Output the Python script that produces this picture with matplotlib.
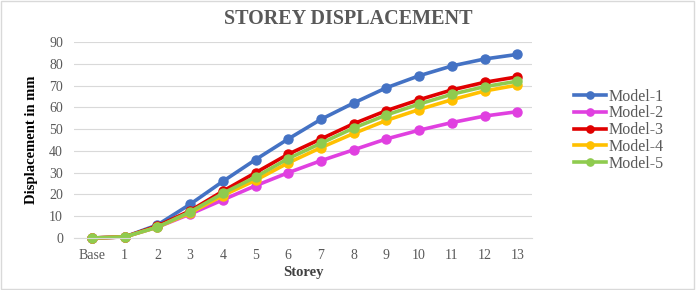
import matplotlib
matplotlib.use('Agg')
import matplotlib.pyplot as plt

storeys = ['Base', '1', '2', '3', '4', '5', '6', '7', '8', '9', '10', '11', '12', '13']
model_1 = [0, 0.5, 6, 15.5, 26, 36, 45.5, 54.5, 62, 69, 74.5, 79, 82.2, 84.3]
model_2 = [0, 0.5, 5, 11, 17.5, 24, 30, 35.5, 40.5, 45.5, 49.5, 53, 56, 58]
model_3 = [0, 0.5, 5.5, 12.5, 21.5, 30, 38.5, 45.5, 52.5, 58.5, 63.5, 68, 71.5, 74]
model_4 = [0, 0.5, 5, 11.5, 19.5, 26.5, 34.5, 41.5, 48, 54, 59, 63.5, 67.5, 70.2]
model_5 = [0, 0.5, 5, 12, 20.5, 28, 36.5, 43.5, 50.5, 56.5, 61.5, 66, 69.5, 72]
names = ['Model-1', 'Model-2', 'Model-3', 'Model-4', 'Model-5']
colors = ['#4472C4', '#E040E0', '#E00000', '#FFC000', '#8FCB4F']

plt.rcParams['font.family'] = ['Liberation Serif', 'DejaVu Serif']

fig = plt.figure(figsize=(6.96, 2.90), dpi=100)
ax = fig.add_axes([74 / 696, 52 / 290, (532 - 74) / 696, (238 - 42) / 290])

x = list(range(len(storeys)))
for vals, name, c in zip([model_1, model_2, model_3, model_4, model_5], names, colors):
    ax.plot(x, vals, color=c, lw=2.6, marker='o', ms=6.5, label=name, clip_on=False)

ax.set_xlim(-0.55, 13.45)
ax.set_ylim(0, 90)
ax.set_yticks(range(0, 91, 10))
ax.set_xticks(x)
ax.set_xticklabels(storeys)
ax.grid(axis='y', color='#D9D9D9', lw=0.8)
ax.set_axisbelow(True)
for s in ['top', 'right', 'left']:
    ax.spines[s].set_visible(False)
ax.spines['bottom'].set_color('#D9D9D9')
ax.tick_params(length=0, labelsize=10, colors='#595959', pad=8)

ax.set_xlabel('Storey', fontsize=10.5, fontweight='bold', color='#404040', labelpad=3)
ax.set_ylabel('Displacement in mm', fontsize=10.5, fontweight='bold', color='#000000', labelpad=8)
fig.text(0.5, 0.935, 'STOREY DISPLACEMENT', ha='center', va='center',
         fontsize=14.5, fontweight='bold', color='#595959')

ax.legend(loc='center left', bbox_to_anchor=(1.06, 0.55), frameon=False,
          fontsize=11.5, handlelength=2.0, labelspacing=0.05, handletextpad=0.15,
          labelcolor='#595959', markerscale=0.8)

fig.patches.append(plt.Rectangle((0.002, 0.003), 0.995, 0.993, transform=fig.transFigure,
                                 fill=False, edgecolor='#D9D9D9', lw=1))

fig.savefig('out.png', dpi=100)
